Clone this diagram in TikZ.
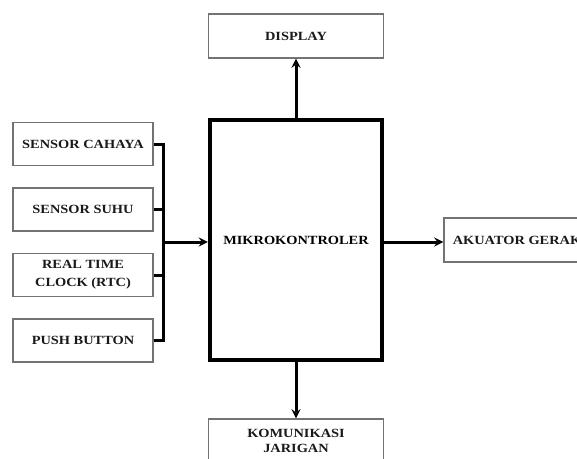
\documentclass[tikz,border=0pt]{standalone}
\usepackage{fontspec}
\setmainfont[FakeStretch=1.15]{Liberation Serif}
\usepackage{tikz}
\usetikzlibrary{arrows,shapes}

\begin{document}
\begin{tikzpicture}[shape=rectangle,>=stealth,x=1pt,y=1pt,
  font=\bfseries\fontsize{12.5}{15}\selectfont,
  block/.style={draw=black!55, line width=1.3pt, text=black!90,
    minimum width=175pt, minimum height=44pt, align=center},
  sidebox/.style={block, minimum width=140pt, minimum height=43pt,
    node distance=65.5pt},
  wire/.style={line width=3pt}]
\useasboundingbox (0,0) rectangle (577,-458);
\node (mikro) [draw, line width=4.2pt, minimum width=172pt,
minimum height=240pt] at (296,-240) {MIKROKONTROLER};
\node (display) [block, node distance=204pt, above of=mikro] {DISPLAY};
\node (akuator) [block, minimum width=146pt, node distance=221pt,
right of=mikro] {AKUATOR GERAK};
\node (komunikasi) [block, node distance=201pt, below of=mikro]
{KOMUNIKASI\\JARIGAN};
\node (cahaya) [sidebox] at (83,-144) {SENSOR CAHAYA};
\node (suhu) [sidebox, below of=cahaya] {SENSOR SUHU};
\node (rtc) [sidebox, below of=suhu] {REAL TIME\\[3pt]CLOCK (RTC)};
\node (push) [sidebox, below of=rtc] {PUSH BUTTON};
\coordinate (bus) at (163,-242);

\draw[wire] (cahaya.east) -| (bus);
\draw[wire] (push.east) -| (bus);
\draw[wire] (suhu.east) -- (suhu.east -| bus);
\draw[wire] (rtc.east) -- (rtc.east -| bus);
\draw[wire, ->] (bus) -- (bus -| mikro.west);
\draw[wire, ->] (mikro.north) -- (display.south);
\draw[wire, ->] (mikro.south) -- (komunikasi.north);
\draw[wire, ->] (mikro.east |- bus) -- (akuator.west |- bus);
\end{tikzpicture}
\end{document}
